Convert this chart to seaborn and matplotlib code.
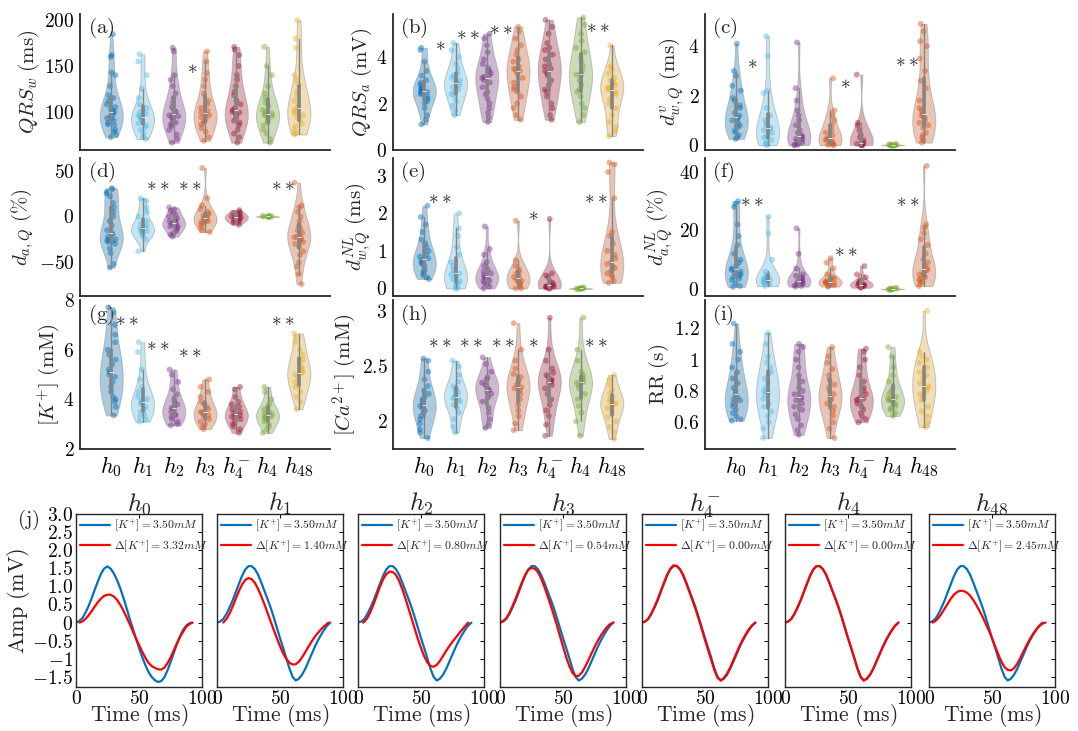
import numpy as np
import pandas as pd
import matplotlib
matplotlib.use("Agg")
import matplotlib.pyplot as plt
from matplotlib.collections import PolyCollection
import seaborn as sns

sns.set_theme(style="white")
plt.rcParams["font.family"] = ["DejaVu Serif"]
plt.rcParams["mathtext.fontset"] = "cm"

# ---------------- categories / labels ----------------
GROUPS = ["h0", "h1", "h2", "h3", "h4m", "h4", "h48"]
GROUP_TEX = [r"$h_0$", r"$h_1$", r"$h_2$", r"$h_3$", r"$h_4^{-}$", r"$h_4$", r"$h_{48}$"]

PAL_Y = ["#0072BD", "#4DBEEE", "#7E2F8E", "#D95319", "#A2142F", "#77AC30", "#EDB120"]
PAL_O = ["#0072BD", "#4DBEEE", "#7E2F8E", "#D95319", "#A2142F", "#77AC30", "#D95319"]

# ---------------- violin data ----------------
QRS_W = {
    "h0": [185, 162, 160, 143, 140, 128, 118, 115, 112, 108, 105, 103, 101, 100, 99, 97, 95, 93, 92, 90, 88, 86, 85, 80, 78, 75, 72],
    "h1": [163, 155, 140, 125, 115, 108, 104, 100, 98, 96, 95, 94, 93, 92, 90, 89, 87, 85, 83, 80, 76, 72, 70],
    "h2": [170, 166, 140, 135, 128, 120, 115, 110, 105, 102, 100, 98, 96, 95, 94, 92, 90, 88, 86, 84, 80, 75, 70, 66],
    "h3": [166, 155, 142, 135, 128, 120, 112, 108, 104, 101, 99, 97, 96, 94, 92, 90, 88, 86, 82, 78, 72, 68],
    "h4m": [171, 168, 162, 150, 140, 135, 128, 122, 118, 112, 108, 104, 102, 100, 99, 98, 96, 93, 90, 88, 85, 80, 76, 72, 66],
    "h4": [171, 150, 140, 128, 120, 115, 110, 106, 102, 100, 98, 97, 96, 95, 93, 90, 88, 85, 80, 76, 70, 66],
    "h48": [200, 180, 170, 140, 135, 130, 122, 118, 112, 108, 105, 102, 100, 98, 96, 93, 90, 87, 84, 80, 76, 75],
}
QRS_A = {
    "h0": [4.4, 4.3, 3.8, 3.4, 3.2, 3.0, 2.9, 2.8, 2.7, 2.65, 2.6, 2.55, 2.5, 2.45, 2.4, 2.3, 2.2, 2.1, 2.0, 1.8, 1.5, 1.3, 1.1],
    "h1": [4.6, 4.3, 4.0, 3.7, 3.5, 3.3, 3.2, 3.1, 3.0, 2.95, 2.9, 2.8, 2.7, 2.6, 2.5, 2.4, 2.3, 2.1, 1.9, 1.7, 1.5],
    "h2": [5.0, 4.8, 4.5, 4.2, 3.9, 3.7, 3.5, 3.4, 3.3, 3.2, 3.15, 3.1, 3.0, 2.9, 2.7, 2.5, 2.4, 2.2, 2.0, 1.8, 1.6, 1.4, 1.2],
    "h3": [5.3, 5.1, 4.8, 4.5, 4.3, 4.1, 3.9, 3.8, 3.6, 3.5, 3.45, 3.4, 3.3, 3.1, 2.9, 2.7, 2.6, 2.5, 2.3, 2.0, 1.8, 1.5, 1.3],
    "h4m": [5.6, 5.3, 5.0, 4.6, 4.4, 4.3, 4.1, 3.9, 3.7, 3.6, 3.5, 3.4, 3.3, 3.2, 3.0, 2.8, 2.6, 2.5, 2.3, 2.0, 1.8, 1.5, 1.3],
    "h4": [5.7, 5.4, 5.0, 4.7, 4.4, 4.2, 4.0, 3.8, 3.6, 3.4, 3.3, 3.25, 3.2, 3.0, 2.8, 2.6, 2.5, 2.3, 2.0, 1.8, 1.5, 1.2],
    "h48": [4.5, 3.6, 3.5, 3.3, 3.1, 3.0, 2.9, 2.8, 2.7, 2.65, 2.6, 2.5, 2.4, 2.2, 2.0, 1.8, 1.5, 1.2, 1.0, 0.8, 0.6],
}
D_V_WQ = {
    "h0": [4.1, 3.0, 2.8, 2.4, 2.2, 1.9, 1.8, 1.6, 1.5, 1.3, 1.2, 1.1, 1.05, 1.0, 0.9, 0.8, 0.7, 0.6, 0.5, 0.4, 0.3, 0.25],
    "h1": [4.4, 3.6, 2.2, 2.1, 1.5, 1.2, 1.0, 0.9, 0.8, 0.7, 0.65, 0.6, 0.5, 0.4, 0.3, 0.2, 0.1, 0.05, 0.0, 0.0],
    "h2": [4.15, 2.3, 1.8, 1.4, 1.2, 1.0, 0.8, 0.6, 0.5, 0.4, 0.35, 0.3, 0.25, 0.2, 0.15, 0.1, 0.05, 0.0, 0.0, 0.0],
    "h3": [2.7, 1.4, 1.2, 1.0, 0.8, 0.6, 0.5, 0.4, 0.3, 0.25, 0.2, 0.15, 0.1, 0.05, 0.0, 0.0, 0.0],
    "h4m": [2.85, 0.9, 0.8, 0.6, 0.4, 0.3, 0.2, 0.1, 0.05, 0.05, 0.0, 0.0, 0.0, 0.0, 0.0],
    "h4": [-0.05, -0.03, 0.0, 0.0, 0.0, 0.0, 0.0, 0.0, 0.03, 0.05],
    "h48": [4.9, 4.6, 4.2, 4.0, 3.5, 3.0, 2.6, 2.3, 1.8, 1.5, 1.4, 1.3, 1.2, 1.15, 1.1, 1.0, 0.9, 0.8, 0.7, 0.5, 0.4, 0.3, 0.2, 0.1],
}
D_AQ = {
    "h0": [31, 30, 27, 25, 22, 15, 10, 5, 0, -5, -10, -15, -18, -20, -22, -25, -25, -26, -27, -28, -30, -35, -40, -52, -56],
    "h1": [20, 17, 10, 5, 0, -5, -8, -10, -12, -13, -14, -15, -16, -17, -18, -20, -22, -25, -38],
    "h2": [10, 8, 6, 4, 2, 0, -2, -4, -5, -6, -7, -8, -9, -10, -11, -12, -14, -16, -18, -20, -22],
    "h3": [53, 20, 12, 8, 5, 3, 1, 0, -1, -2, -3, -4, -5, -6, -7, -9, -12, -15, -17],
    "h4m": [7, 5, 4, 3, 2, 1, 0, -1, -1, -2, -3, -4, -5, -6, -7, -9],
    "h4": [-1.0, -0.5, 0.0, 0.0, 0.0, 0.0, 0.0, 0.5, 1.0],
    "h48": [37, 12, 10, 5, 0, -5, -10, -13, -15, -18, -20, -22, -23, -24, -26, -28, -30, -33, -38, -42, -50, -55, -63, -74],
}
D_NL_WQ = {
    "h0": [2.2, 1.9, 1.7, 1.5, 1.3, 1.2, 1.1, 1.0, 0.9, 0.85, 0.8, 0.75, 0.7, 0.68, 0.65, 0.6, 0.5, 0.45, 0.4, 0.35, 0.3, 0.25],
    "h1": [2.0, 1.6, 1.4, 1.1, 0.9, 0.7, 0.6, 0.5, 0.45, 0.4, 0.37, 0.3, 0.25, 0.2, 0.15, 0.1, 0.05, 0.0, 0.0],
    "h2": [1.65, 1.05, 0.9, 0.7, 0.6, 0.5, 0.45, 0.4, 0.35, 0.3, 0.28, 0.25, 0.2, 0.2, 0.15, 0.1, 0.05, 0.0],
    "h3": [1.8, 0.75, 0.6, 0.5, 0.45, 0.4, 0.35, 0.3, 0.25, 0.22, 0.2, 0.15, 0.1, 0.05, 0.0, 0.0],
    "h4m": [1.85, 0.4, 0.35, 0.3, 0.2, 0.15, 0.1, 0.08, 0.06, 0.05, 0.04, 0.03, 0.02, 0.0, 0.0],
    "h4": [-0.03, -0.015, 0.0, 0.0, 0.0, 0.0, 0.0, 0.015, 0.03],
    "h48": [3.35, 3.3, 3.1, 2.4, 1.5, 1.4, 1.2, 1.0, 0.9, 0.8, 0.7, 0.65, 0.6, 0.55, 0.5, 0.45, 0.4, 0.35, 0.3, 0.2, 0.15],
}
D_NL_AQ = {
    "h0": [30, 29, 28, 22, 18, 15, 12, 10, 9, 8, 7, 6.5, 6, 5.5, 5, 4.5, 4, 3.5, 3, 2, 1, 0.7],
    "h1": [24.7, 19, 10, 6, 5, 4.5, 4, 3.5, 3.2, 3.1, 3, 2.8, 2.5, 2.2, 2, 1.8, 1.5, 1],
    "h2": [20.7, 12, 7, 5, 4.5, 4, 3.5, 3, 2.8, 2.5, 2.4, 2.2, 2, 1.8, 1.5, 1.2, 1, 0.8],
    "h3": [10.5, 9, 7, 5, 4, 3.5, 3, 2.8, 2.5, 2.3, 2.2, 2, 1.8, 1.5, 1.2, 1, 0.8],
    "h4m": [7.8, 5, 4, 3, 2.5, 2, 1.8, 1.5, 1.4, 1.3, 1.2, 1, 0.8, 0.6, 0.4],
    "h4": [-0.4, -0.2, 0.0, 0.0, 0.0, 0.0, 0.0, 0.2, 0.4],
    "h48": [42, 22, 21, 19, 17, 15, 12, 10, 9, 8, 7, 6.5, 6, 5.5, 5, 4.5, 4, 3.5, 3, 2.5, 2, 1],
}
K_PLUS = {
    "h0": [7.7, 7.5, 7.0, 6.6, 6.3, 6.0, 5.8, 5.6, 5.4, 5.2, 5.1, 5.0, 4.9, 4.7, 4.5, 4.3, 4.1, 4.0, 3.9, 3.7, 3.35],
    "h1": [6.3, 5.9, 5.2, 4.8, 4.5, 4.3, 4.1, 4.0, 3.95, 3.9, 3.85, 3.8, 3.7, 3.6, 3.5, 3.4, 3.3, 3.2, 3.1],
    "h2": [5.2, 5.0, 4.7, 4.4, 4.2, 4.0, 3.9, 3.8, 3.7, 3.65, 3.6, 3.5, 3.4, 3.35, 3.3, 3.2, 3.1, 3.0, 2.95],
    "h3": [4.8, 4.5, 4.3, 4.1, 3.9, 3.8, 3.7, 3.6, 3.5, 3.45, 3.4, 3.35, 3.3, 3.2, 3.1, 3.0, 2.9, 2.8],
    "h4m": [4.5, 4.4, 4.1, 3.9, 3.8, 3.7, 3.6, 3.5, 3.45, 3.4, 3.35, 3.3, 3.25, 3.2, 3.1, 3.0, 2.9, 2.8, 2.65],
    "h4": [4.5, 4.3, 4.0, 3.8, 3.7, 3.6, 3.5, 3.45, 3.4, 3.35, 3.3, 3.25, 3.2, 3.1, 3.0, 2.9, 2.8, 2.65],
    "h48": [6.65, 6.5, 6.3, 6.0, 5.8, 5.6, 5.5, 5.3, 5.2, 5.1, 5.05, 5.0, 4.9, 4.7, 4.6, 4.5, 4.3, 4.1, 3.9, 3.6],
}
CA_2PLUS = {
    "h0": [2.57, 2.55, 2.45, 2.38, 2.32, 2.28, 2.25, 2.22, 2.2, 2.18, 2.15, 2.14, 2.12, 2.1, 2.08, 2.05, 2.02, 1.98, 1.93, 1.9, 1.85],
    "h1": [2.55, 2.5, 2.42, 2.36, 2.32, 2.3, 2.28, 2.26, 2.24, 2.22, 2.21, 2.2, 2.18, 2.15, 2.12, 2.08, 2.02, 1.95, 1.9],
    "h2": [2.58, 2.52, 2.45, 2.4, 2.38, 2.35, 2.33, 2.31, 2.29, 2.285, 2.27, 2.25, 2.22, 2.18, 2.12, 2.08, 2.02, 1.97, 1.94],
    "h3": [2.89, 2.65, 2.55, 2.48, 2.43, 2.4, 2.37, 2.35, 2.33, 2.31, 2.3, 2.28, 2.25, 2.2, 2.15, 2.1, 2.05, 1.98, 1.92],
    "h4m": [2.94, 2.65, 2.55, 2.48, 2.44, 2.42, 2.4, 2.38, 2.37, 2.36, 2.35, 2.33, 2.3, 2.25, 2.2, 2.15, 2.1, 2.05, 1.97, 1.87],
    "h4": [2.94, 2.65, 2.55, 2.45, 2.42, 2.4, 2.38, 2.37, 2.36, 2.35, 2.33, 2.3, 2.25, 2.2, 2.14, 2.08, 2.0, 1.87],
    "h48": [2.42, 2.38, 2.33, 2.28, 2.25, 2.22, 2.2, 2.18, 2.17, 2.16, 2.14, 2.12, 2.1, 2.07, 2.04, 2.0, 1.95, 1.9, 1.84],
}
RR = {
    "h0": [1.23, 1.1, 1.05, 1.0, 0.95, 0.92, 0.88, 0.85, 0.82, 0.8, 0.78, 0.76, 0.75, 0.74, 0.72, 0.7, 0.68, 0.66, 0.64, 0.62, 0.61],
    "h1": [1.17, 1.1, 1.02, 0.98, 0.95, 0.92, 0.88, 0.85, 0.82, 0.8, 0.79, 0.78, 0.75, 0.72, 0.7, 0.67, 0.64, 0.6, 0.56, 0.5],
    "h2": [1.1, 1.08, 1.05, 1.0, 0.95, 0.9, 0.86, 0.82, 0.8, 0.78, 0.76, 0.75, 0.74, 0.72, 0.7, 0.68, 0.65, 0.62, 0.58, 0.55, 0.52],
    "h3": [1.08, 1.02, 0.98, 0.94, 0.9, 0.87, 0.84, 0.82, 0.8, 0.78, 0.76, 0.75, 0.74, 0.72, 0.7, 0.67, 0.64, 0.6, 0.56, 0.5],
    "h4m": [1.07, 1.05, 1.0, 0.95, 0.9, 0.86, 0.82, 0.8, 0.78, 0.76, 0.75, 0.745, 0.74, 0.72, 0.7, 0.68, 0.66, 0.64, 0.62, 0.6],
    "h4": [1.08, 1.02, 0.95, 0.9, 0.86, 0.82, 0.8, 0.78, 0.76, 0.75, 0.745, 0.74, 0.73, 0.72, 0.7, 0.69, 0.68, 0.66, 0.64],
    "h48": [1.31, 1.05, 1.02, 1.0, 0.98, 0.95, 0.92, 0.9, 0.88, 0.85, 0.83, 0.82, 0.8, 0.78, 0.76, 0.74, 0.7, 0.67, 0.64, 0.6, 0.57],
}

# significance marks: (x position between groups, y value, text)
STARS_A = [(2.6, 148, "*")]
STARS_B = [(0.5, 4.5, "*"), (1.4, 5.0, "**"), (2.45, 5.2, "**"), (5.55, 5.3, "**")]
STARS_C = [(0.5, 3.3, "*"), (3.5, 2.5, "*"), (5.45, 3.4, "**")]
STARS_D = [(1.5, 35, "**"), (2.5, 35, "**"), (5.5, 35, "**")]
STARS_E = [(0.5, 2.4, "**"), (3.5, 1.95, "*"), (5.5, 2.4, "**")]
STARS_F = [(0.5, 30, "**"), (3.5, 13, "**"), (5.5, 30, "**")]
STARS_G = [(0.5, 7.2, "**"), (1.5, 6.2, "**"), (2.5, 5.9, "**"), (5.5, 7.2, "**")]
STARS_H = [(0.5, 2.72, "**"), (1.5, 2.72, "**"), (2.5, 2.72, "**"), (3.5, 2.72, "*"), (5.5, 2.72, "**")]
STARS_I = []

# ---------------- waveform data: (time ms, amplitude mV) ----------------
BLUE_H0 = [(0, 0), (2.5, 0.04), (5, 0.12), (7.5, 0.27), (10, 0.46), (12.5, 0.68), (15, 0.92), (17.5, 1.15),
           (20, 1.36), (22.5, 1.5), (25, 1.55), (27.5, 1.49), (30, 1.36), (32.5, 1.18), (35, 0.96), (37.5, 0.7),
           (40, 0.42), (42.5, 0.12), (45, -0.15), (47.5, -0.43), (50, -0.7), (52.5, -0.95), (55, -1.17),
           (57.5, -1.36), (60, -1.5), (62.5, -1.59), (65, -1.64), (67.5, -1.62), (70, -1.52), (72.5, -1.33),
           (75, -1.1), (77.5, -0.85), (80, -0.6), (82.5, -0.38), (85, -0.2), (87.5, -0.08), (90, -0.02), (92, 0)]
BLUE_STD = [(0, 0), (2.5, 0.03), (5, 0.1), (7.5, 0.24), (10, 0.42), (12.5, 0.62), (15, 0.85), (17.5, 1.08),
            (20, 1.3), (22.5, 1.47), (25, 1.56), (27.5, 1.56), (30, 1.48), (32.5, 1.33), (35, 1.12), (37.5, 0.89),
            (40, 0.66), (42.5, 0.42), (45, 0.15), (47.5, -0.14), (50, -0.43), (52.5, -0.7), (55, -0.98),
            (57.5, -1.27), (60, -1.5), (62.5, -1.6), (65, -1.55), (67.5, -1.44), (70, -1.28), (72.5, -1.08),
            (75, -0.88), (77.5, -0.68), (80, -0.5), (82.5, -0.34), (85, -0.2), (87.5, -0.08), (90, 0)]

RED_H0 = [(3, 0), (5, 0.03), (7.5, 0.1), (10, 0.2), (12.5, 0.32), (15, 0.45), (17.5, 0.57), (20, 0.67),
          (22.5, 0.74), (25, 0.77), (27.5, 0.77), (30, 0.72), (32.5, 0.63), (35, 0.5), (37.5, 0.34), (40, 0.16),
          (42.5, -0.03), (45, -0.23), (47.5, -0.43), (50, -0.62), (52.5, -0.8), (55, -0.97), (57.5, -1.11),
          (60, -1.2), (62.5, -1.25), (65, -1.29), (67.5, -1.3), (70, -1.25), (72.5, -1.13), (75, -0.97),
          (77.5, -0.78), (80, -0.58), (82.5, -0.4), (85, -0.25), (87.5, -0.12), (90, -0.04), (92.5, 0)]
RED_H1 = [(5, 0), (7.5, 0.1), (10, 0.25), (12.5, 0.45), (15, 0.67), (17.5, 0.88), (20, 1.06), (22.5, 1.18),
          (25, 1.23), (27.5, 1.2), (30, 1.1), (32.5, 0.94), (35, 0.74), (37.5, 0.52), (40, 0.28), (42.5, 0.04),
          (45, -0.2), (47.5, -0.43), (50, -0.65), (52.5, -0.85), (55, -1.0), (57.5, -1.11), (60, -1.16),
          (62.5, -1.15), (65, -1.08), (67.5, -0.96), (70, -0.82), (72.5, -0.67), (75, -0.53), (77.5, -0.4),
          (80, -0.29), (82.5, -0.19), (85, -0.1), (87.5, -0.03), (88.5, 0)]
RED_H2 = [(4, 0), (5, 0.02), (7.5, 0.13), (10, 0.3), (12.5, 0.52), (15, 0.76), (17.5, 1.0), (20, 1.2),
          (22.5, 1.34), (25, 1.41), (27.5, 1.4), (30, 1.32), (32.5, 1.16), (35, 0.94), (37.5, 0.68), (40, 0.4),
          (42.5, 0.12), (45, -0.17), (47.5, -0.45), (50, -0.7), (52.5, -0.93), (55, -1.1), (57.5, -1.2),
          (60, -1.22), (62.5, -1.17), (65, -1.06), (67.5, -0.92), (70, -0.78), (72.5, -0.65), (75, -0.53),
          (77.5, -0.42), (80, -0.31), (82.5, -0.2), (85, -0.1), (87.5, 0)]
RED_H3 = [(0, 0), (2.5, 0.04), (5, 0.12), (7.5, 0.27), (10, 0.46), (12.5, 0.67), (15, 0.9), (17.5, 1.12),
          (20, 1.32), (22.5, 1.46), (25, 1.51), (27.5, 1.49), (30, 1.4), (32.5, 1.23), (35, 1.01), (37.5, 0.76),
          (40, 0.5), (42.5, 0.23), (45, -0.06), (47.5, -0.36), (50, -0.66), (52.5, -0.95), (55, -1.2),
          (57.5, -1.39), (60, -1.48), (62.5, -1.47), (65, -1.38), (67.5, -1.23), (70, -1.05), (72.5, -0.86),
          (75, -0.68), (77.5, -0.51), (80, -0.36), (82.5, -0.23), (85, -0.12), (87.5, -0.04), (90, 0)]
RED_H4M = [(0, 0), (2.5, 0.03), (5, 0.11), (7.5, 0.26), (10, 0.44), (12.5, 0.65), (15, 0.88), (17.5, 1.11),
           (20, 1.33), (22.5, 1.49), (25, 1.58), (27.5, 1.57), (30, 1.48), (32.5, 1.32), (35, 1.1), (37.5, 0.86),
           (40, 0.62), (42.5, 0.37), (45, 0.1), (47.5, -0.19), (50, -0.48), (52.5, -0.76), (55, -1.04),
           (57.5, -1.32), (60, -1.53), (62.5, -1.6), (65, -1.53), (67.5, -1.41), (70, -1.24), (72.5, -1.04),
           (75, -0.84), (77.5, -0.64), (80, -0.47), (82.5, -0.31), (85, -0.18), (87.5, -0.07), (90, 0)]
RED_H4 = [(0, 0), (2.5, 0.03), (5, 0.1), (7.5, 0.24), (10, 0.42), (12.5, 0.62), (15, 0.85), (17.5, 1.08),
          (20, 1.3), (22.5, 1.47), (25, 1.56), (27.5, 1.56), (30, 1.48), (32.5, 1.33), (35, 1.12), (37.5, 0.89),
          (40, 0.66), (42.5, 0.42), (45, 0.15), (47.5, -0.14), (50, -0.43), (52.5, -0.7), (55, -0.98),
          (57.5, -1.27), (60, -1.5), (62.5, -1.6), (65, -1.55), (67.5, -1.44), (70, -1.28), (72.5, -1.08),
          (75, -0.88), (77.5, -0.68), (80, -0.5), (82.5, -0.34), (85, -0.2), (87.5, -0.08), (90, 0)]
RED_H48 = [(3, 0), (5, 0.04), (7.5, 0.13), (10, 0.25), (12.5, 0.39), (15, 0.53), (17.5, 0.67), (20, 0.78),
           (22.5, 0.85), (25, 0.88), (27.5, 0.87), (30, 0.83), (32.5, 0.75), (35, 0.63), (37.5, 0.49), (40, 0.33),
           (42.5, 0.16), (45, -0.03), (47.5, -0.22), (50, -0.43), (52.5, -0.66), (55, -0.88), (57.5, -1.08),
           (60, -1.23), (62.5, -1.31), (65, -1.32), (67.5, -1.26), (70, -1.14), (72.5, -0.98), (75, -0.8),
           (77.5, -0.62), (80, -0.46), (82.5, -0.32), (85, -0.2), (87.5, -0.1), (90, -0.03), (92.5, 0)]

BLUE_CURVES = [BLUE_H0, BLUE_STD, BLUE_STD, BLUE_STD, BLUE_STD, BLUE_STD, BLUE_STD]
RED_CURVES = [RED_H0, RED_H1, RED_H2, RED_H3, RED_H4M, RED_H4, RED_H48]
K_BASE = "3.50"
K_DELTA = ["3.32", "1.40", "0.80", "0.54", "0.00", "0.00", "2.45"]

# ---------------- layout ----------------
W, H = 1078, 731
fig = plt.figure(figsize=(W / 100, H / 100), dpi=100)


def rect(x0, y0, x1, y1):
    return [x0 / W, 1 - y1 / H, (x1 - x0) / W, (y1 - y0) / H]


COLS = [(80, 330), (393, 643), (705, 955)]
ROWS = [(14, 150), (158, 296), (300, 449)]

PANELS = [
    dict(data=QRS_W, ylabel=r"$QRS_w\ \mathrm{(ms)}$", ylim=(58, 207), yticks=[100, 150, 200], pal=PAL_Y, stars=STARS_A, tag="(a)"),
    dict(data=QRS_A, ylabel=r"$QRS_a\ \mathrm{(mV)}$", ylim=(0, 5.85), yticks=[0, 2, 4], pal=PAL_Y, stars=STARS_B, tag="(b)"),
    dict(data=D_V_WQ, ylabel=r"$d^{v}_{w,Q}\ \mathrm{(ms)}$", ylim=(-0.2, 5.3), yticks=[0, 2, 4], pal=PAL_O, stars=STARS_C, tag="(c)"),
    dict(data=D_AQ, ylabel=r"$d_{a,Q}\ (\%)$", ylim=(-87, 64), yticks=[-50, 0, 50], pal=PAL_O, stars=STARS_D, tag="(d)"),
    dict(data=D_NL_WQ, ylabel=r"$d^{NL}_{w,Q}\ \mathrm{(ms)}$", ylim=(-0.2, 3.47), yticks=[0, 1, 2, 3], pal=PAL_O, stars=STARS_E, tag="(e)"),
    dict(data=D_NL_AQ, ylabel=r"$d^{NL}_{a,Q}\ (\%)$", ylim=(-2.4, 44.7), yticks=[0, 20, 40], pal=PAL_O, stars=STARS_F, tag="(f)"),
    dict(data=K_PLUS, ylabel=r"$[K^{+}]\ \mathrm{(mM)}$", ylim=(2, 8), yticks=[2, 4, 6, 8], pal=PAL_Y, stars=STARS_G, tag="(g)"),
    dict(data=CA_2PLUS, ylabel=r"$[Ca^{2+}]\ \mathrm{(mM)}$", ylim=(1.75, 3.1), yticks=[2, 2.5, 3], pal=PAL_Y, stars=STARS_H, tag="(h)"),
    dict(data=RR, ylabel=r"$\mathrm{RR\ (s)}$", ylim=(0.43, 1.38), yticks=[0.6, 0.8, 1, 1.2], pal=PAL_Y, stars=STARS_I, tag="(i)"),
]

for k, p in enumerate(PANELS):
    r, c = divmod(k, 3)
    ax = fig.add_axes(rect(COLS[c][0], ROWS[r][0], COLS[c][1], ROWS[r][1]))
    df = pd.DataFrame({
        "g": np.concatenate([[g] * len(p["data"][g]) for g in GROUPS]),
        "v": np.concatenate([p["data"][g] for g in GROUPS]).astype(float),
    })
    sns.violinplot(data=df, x="g", y="v", hue="g", order=GROUPS, hue_order=GROUPS,
                   palette=p["pal"], cut=0, density_norm="width", width=0.74,
                   inner="box", linecolor="#808080", linewidth=0.7, alpha=0.36,
                   inner_kws=dict(box_width=2.6, whis_width=1.0),
                   legend=False, ax=ax)
    sns.stripplot(data=df, x="g", y="v", hue="g", order=GROUPS, hue_order=GROUPS,
                  palette=p["pal"], jitter=0.15, size=4.2, alpha=0.45, linewidth=0,
                  legend=False, ax=ax)
    for ln in ax.lines:
        ln.set_zorder(4)
        if ln.get_marker() == "o":
            ln.set_markersize(5.6)
            ln.set_markeredgewidth(0.6)
            ln.set_markerfacecolor("white")
            ln.set_markeredgecolor("#606060")
        else:
            ln.set_color("#858585")
    for col in ax.collections:
        if isinstance(col, PolyCollection):
            col.set_edgecolor((0.45, 0.45, 0.45, 0.55))
    ax.set_xlim(-1, 7)
    ax.set_ylim(*p["ylim"])
    ax.set_yticks(p["yticks"])
    ax.set_yticklabels([f"${v:g}$" for v in p["yticks"]], fontsize=14)
    ax.set_xticks(range(7))
    if r == 2:
        ax.set_xticklabels(GROUP_TEX, fontsize=16)
    else:
        ax.set_xticklabels([])
    ax.set_xlabel("")
    ax.set_ylabel(p["ylabel"], fontsize=15, labelpad=2)
    ax.tick_params(direction="in", length=4, width=0.8, colors="black", pad=4)
    for s in ["top", "right"]:
        ax.spines[s].set_visible(False)
    for s in ["left", "bottom"]:
        ax.spines[s].set_color("#262626")
        ax.spines[s].set_linewidth(1.3)
    ax.text(0.03, 0.9, r"$\mathrm{" + p["tag"] + "}$", transform=ax.transAxes,
            fontsize=15, ha="left", va="center")
    for (xs, ys, txt) in p["stars"]:
        ax.text(xs, ys, "$" + txt.replace("*", r"\ast") + "$", fontsize=14,
                ha="center", va="center")

# ---------------- bottom waveform panels ----------------
BLEFTS = [76, 217, 358, 500, 642, 785, 929]
YT = [-1.5, -1, -0.5, 0, 0.5, 1, 1.5, 2, 2.5, 3]
YT_LAB = ["$-1.5$", "$-1$", "$-0.5$", "$0$", "$0.5$", "$1.0$", "$1.5$", "$2.0$", "$2.5$", "$3.0$"]
for i, x0 in enumerate(BLEFTS):
    ax = fig.add_axes(rect(x0, 514, x0 + 126, 687))
    tb, vb = zip(*BLUE_CURVES[i])
    tr, vr = zip(*RED_CURVES[i])
    sns.lineplot(x=list(tb), y=list(vb), ax=ax, color="#0072BD", linewidth=1.6, sort=False,
                 label=rf"$[K^{{+}}]={K_BASE}mM$")
    sns.lineplot(x=list(tr), y=list(vr), ax=ax, color="#FF0000", linewidth=1.6, sort=False,
                 label=rf"$\Delta[K^{{+}}]={K_DELTA[i]}mM$")
    ax.set_xlim(0, 100)
    ax.set_ylim(-1.78, 3.0)
    ax.set_xticks([0, 50, 100])
    ax.set_xticklabels(["$0$", "$50$", "$100$"], fontsize=14)
    ax.set_yticks(YT)
    if i == 0:
        ax.set_yticklabels(YT_LAB, fontsize=14)
        ax.set_ylabel(r"$\mathrm{Amp\ (mV)}$", fontsize=16, labelpad=0)
    else:
        ax.set_yticklabels([])
    ax.set_xlabel(r"$\mathrm{Time\ (ms)}$", fontsize=15.5, labelpad=-4)
    ax.set_title(GROUP_TEX[i], fontsize=18, pad=2)
    ax.tick_params(direction="in", length=3, width=0.7, top=True, right=True,
                   colors="black", pad=2)
    for s in ax.spines.values():
        s.set_color("#262626")
        s.set_linewidth(1.0)
        s.set_visible(True)
    ax.legend(loc="upper left", fontsize=8.5, frameon=False, handlelength=2.6,
              handletextpad=0.3, borderaxespad=0.1, labelspacing=0.3, borderpad=0.2)

fig.text(17 / W, 1 - 520 / H, r"$\mathrm{(j)}$", fontsize=15, ha="left", va="center")

fig.savefig("out.png", dpi=100)
